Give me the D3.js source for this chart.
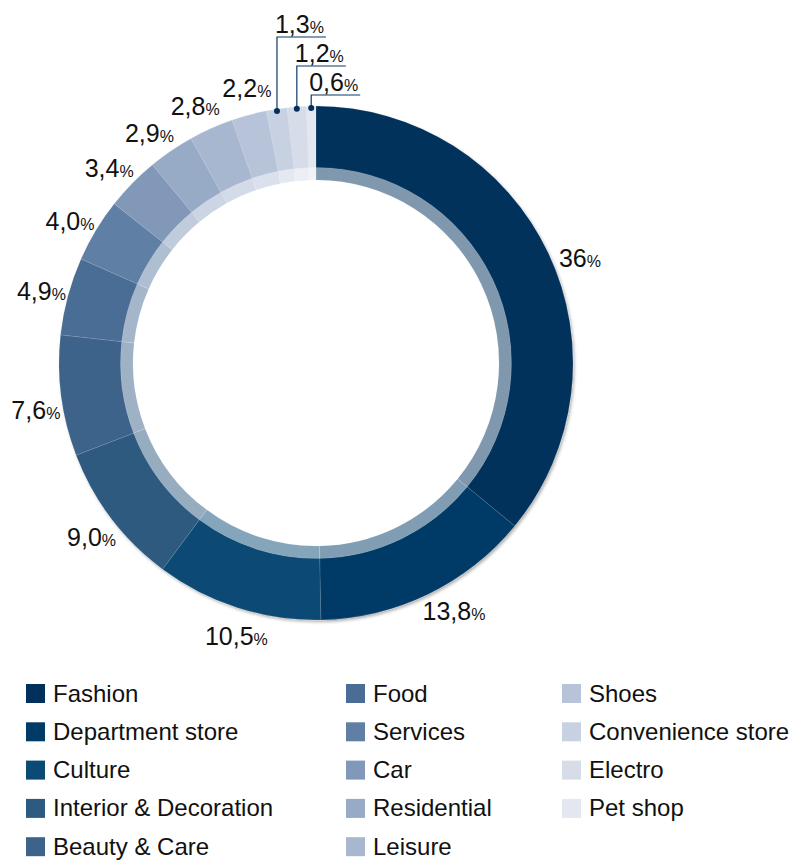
<!DOCTYPE html>
<html>
<head>
<meta charset="utf-8">
<script src="https://cdn.jsdelivr.net/npm/d3@7"></script>
<style>
  html, body { margin: 0; padding: 0; background: #fff; }
  svg { display: block; font-family: "Liberation Sans", Arial, sans-serif; }
</style>
</head>
<body>
<svg id="chart" width="792" height="860"></svg>
<script>
// Share of retail space by category (%)
const categories = [
  "Fashion", "Department store", "Culture", "Interior & Decoration", "Beauty & Care",
  "Food", "Services", "Car", "Residential", "Leisure",
  "Shoes", "Convenience store", "Electro", "Pet shop"
];
const shares = [36, 13.8, 10.5, 9.0, 7.6, 4.9, 4.0, 3.4, 2.9, 2.8, 2.2, 1.3, 1.2, 0.6];
const colors = [
  "#00305b", "#003b67", "#0a4a74", "#2d5a80", "#3e638b",
  "#4a6d95", "#5f7fa5", "#8198b8", "#97aac6", "#a8b7d0",
  "#b6c3d9", "#c8d1e2", "#d6dce8", "#e3e7ef"
];

// Small angular tweaks (degrees) so outside labels clear each other
const labelTurn = [3.7, -3.2, -1.5, -0.6, -2.1, -0.3, -1.1, -1.1, -1.6, -1.1, 1.0, 0, 0, 0];

const data = categories.map((c, i) => ({ name: c, value: shares[i], color: colors[i], i }));

const svg = d3.select("#chart");
const cx = 316, cy = 363;
const outerR = 257, ringInner = 195, bandInner = 183;
const labelR = 284;

const fmt = v => (Number.isInteger(v) && v >= 10) ? String(v) : v.toFixed(1).replace(".", ",");

// soft shadow under the outer ring
const defs = svg.append("defs");
const f = defs.append("filter").attr("id", "shadow")
  .attr("x", "-10%").attr("y", "-10%").attr("width", "120%").attr("height", "120%");
f.append("feDropShadow").attr("dx", 1.5).attr("dy", 2).attr("stdDeviation", 1.6)
  .attr("flood-color", "#000").attr("flood-opacity", 0.3);

const pie = d3.pie().sort(null).value(d => d.value);
const arcs = pie(data);

const outerArc = d3.arc().innerRadius(ringInner).outerRadius(outerR);
const bandArc = d3.arc().innerRadius(bandInner).outerRadius(ringInner + 0.5);

const g = svg.append("g").attr("transform", `translate(${cx},${cy})`);

g.append("g").attr("filter", "url(#shadow)")
  .selectAll("path").data(arcs).join("path")
  .attr("d", outerArc)
  .attr("fill", d => d.data.color)
  .attr("stroke", "rgba(255,255,255,0.18)")
  .attr("stroke-width", 0.6);

g.append("g")
  .selectAll("path").data(arcs).join("path")
  .attr("d", bandArc)
  .attr("fill", d => d3.interpolateRgb(d.data.color, "#ffffff")(0.5))
  .attr("stroke", "rgba(255,255,255,0.18)")
  .attr("stroke-width", 0.6);

// value labels
const big = arcs.filter(d => d.data.value >= 2);
const small = arcs.filter(d => d.data.value < 2);

const labels = svg.append("g").attr("fill", "#111");

big.forEach(d => {
  const a = (d.startAngle + d.endAngle) / 2 + labelTurn[d.data.i] * Math.PI / 180;
  const x = cx + labelR * Math.sin(a);
  const y = cy - labelR * Math.cos(a);
  const t = labels.append("text")
    .attr("x", x).attr("y", y + 9)
    .attr("text-anchor", "middle")
    .attr("font-size", 25);
  t.append("tspan").text(fmt(d.data.value));
  t.append("tspan").attr("font-size", 16).text("%");
});

// leader-line labels for the thinnest slices
const step = 29;
small.forEach((d, k) => {
  const a = (d.startAngle + d.endAngle) / 2;
  const dx = cx + (outerR - 2) * Math.sin(a);
  const dy = cy - (outerR - 2) * Math.cos(a);
  const elbowY = cy - outerR - 11 - step * (small.length - 1 - k);
  const t = labels.append("text")
    .attr("x", dx - 2).attr("y", elbowY - 4)
    .attr("font-size", 25);
  t.append("tspan").text(fmt(d.data.value));
  t.append("tspan").attr("font-size", 16).text("%");
  const w = t.node().getComputedTextLength();
  labels.append("path")
    .attr("d", `M${dx},${dy}V${elbowY}H${dx + w}`)
    .attr("fill", "none").attr("stroke", "#0b3a66").attr("stroke-width", 1.2);
  labels.append("circle").attr("cx", dx).attr("cy", dy).attr("r", 3).attr("fill", "#00305b");
});

// legend
const colX = [26, 346, 562];
const rowY0 = 684, rowStep = 38.3, perCol = 5;
const legend = svg.append("g");
data.forEach((d, i) => {
  const col = Math.floor(i / perCol), row = i % perCol;
  const x = colX[col], y = rowY0 + row * rowStep;
  legend.append("rect").attr("x", x).attr("y", y).attr("width", 19).attr("height", 19)
    .attr("fill", d.color);
  legend.append("text").attr("x", x + 27).attr("y", y + 17.5)
    .attr("font-size", 24).attr("fill", "#111").text(d.name);
});
</script>
</body>
</html>
